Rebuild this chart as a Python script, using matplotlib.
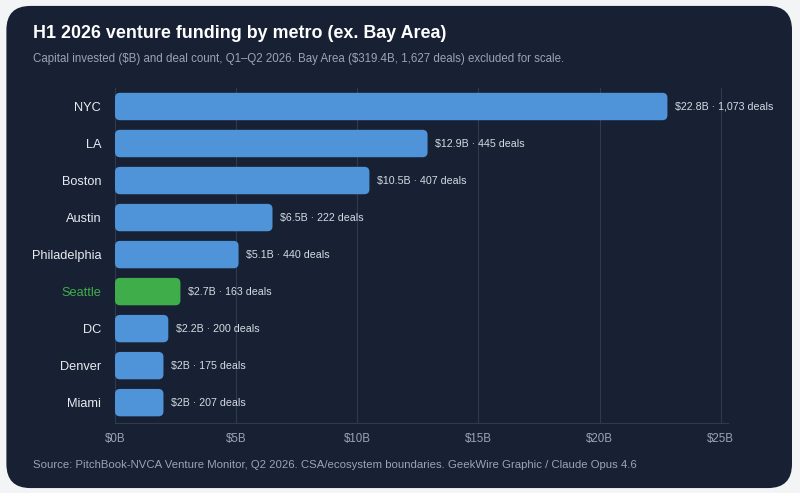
import numpy as np
import matplotlib.pyplot as plt
from matplotlib.patches import FancyBboxPatch

plt.rcParams['text.parse_math'] = False
plt.rcParams['font.family'] = ['Liberation Sans', 'DejaVu Sans']

metros = ['NYC', 'LA', 'Boston', 'Austin', 'Philadelphia', 'Seattle', 'DC', 'Denver', 'Miami']
capital_b = [22.8, 12.9, 10.5, 6.5, 5.1, 2.7, 2.2, 2.0, 2.0]
deals = [1073, 445, 407, 222, 440, 163, 200, 175, 207]
value_labels = ['$22.8B', '$12.9B', '$10.5B', '$6.5B', '$5.1B', '$2.7B', '$2.2B', '$2B', '$2B']
xticks = [0, 5, 10, 15, 20, 25]
xtick_labels = ['$0B', '$5B', '$10B', '$15B', '$20B', '$25B']
highlight = 'Seattle'

bg = '#172133'
blue = '#4f94d9'
green = '#3fae4a'
grid_c = '#2f3a4d'
text_c = '#e8ecf2'
muted = '#9aa4b2'

fig = plt.figure(figsize=(8, 4.93), dpi=100)
fig.patch.set_facecolor('#f3f4f6')
card = FancyBboxPatch((0.008, 0.01), 0.982, 0.978, boxstyle='round,pad=0,rounding_size=0.03',
                      transform=fig.transFigure, facecolor=bg, edgecolor='none',
                      mutation_aspect=800 / 493, zorder=-10)
fig.patches.append(card)

fig.text(33 / 800, 1 - 33 / 493, 'H1 2026 venture funding by metro (ex. Bay Area)', color='white',
         fontsize=12.9, fontweight='bold', va='center', ha='left')
fig.text(33 / 800, 1 - 59 / 493,
         'Capital invested ($B) and deal count, Q1\u2013Q2 2026. Bay Area ($319.4B, 1,627 deals) excluded for scale.',
         color=muted, fontsize=8.3, va='center', ha='left')
fig.text(33 / 800, 1 - 465 / 493,
         'Source: PitchBook-NVCA Venture Monitor, Q2 2026. CSA/ecosystem boundaries. GeekWire Graphic / Claude Opus 4.6',
         color=muted, fontsize=8.2, va='center', ha='left')

ax = fig.add_axes([115 / 800, 1 - 423 / 493, (728 - 115) / 800, (423 - 88) / 493])
ax.set_facecolor('none')
y = np.arange(len(metros))
for i, (m, v) in enumerate(zip(metros, capital_b)):
    c = green if m == highlight else blue
    bar = FancyBboxPatch((0, i - 0.37), v, 0.74, boxstyle='round,pad=0,rounding_size=0.21',
                         facecolor=c, edgecolor='none', mutation_aspect=0.64, zorder=3)
    ax.add_patch(bar)
    ax.text(v + 0.3, i, f'{value_labels[i]} \u00b7 {deals[i]:,} deals', color='#d5dbe3',
            fontsize=7.7, va='center', ha='left', zorder=4)

ax.set_xlim(0, 25.3)
ax.set_ylim(len(metros) - 0.45, -0.5)
ax.set_yticks(y)
ax.set_yticklabels(metros, fontsize=9.2)
for lbl, m in zip(ax.get_yticklabels(), metros):
    lbl.set_color(green if m == highlight else text_c)
ax.set_xticks(xticks)
ax.set_xticklabels(xtick_labels, fontsize=8.3, color=muted)
ax.tick_params(axis='both', length=0)
ax.tick_params(axis='y', pad=10)
ax.tick_params(axis='x', pad=7)
ax.grid(axis='x', color=grid_c, linewidth=0.8, zorder=0)
ax.set_axisbelow(True)
for s in ['top', 'right', 'left']:
    ax.spines[s].set_visible(False)
ax.spines['bottom'].set_color(grid_c)
ax.spines['bottom'].set_linewidth(0.8)

fig.savefig('out.png', dpi=100, facecolor=fig.get_facecolor())
